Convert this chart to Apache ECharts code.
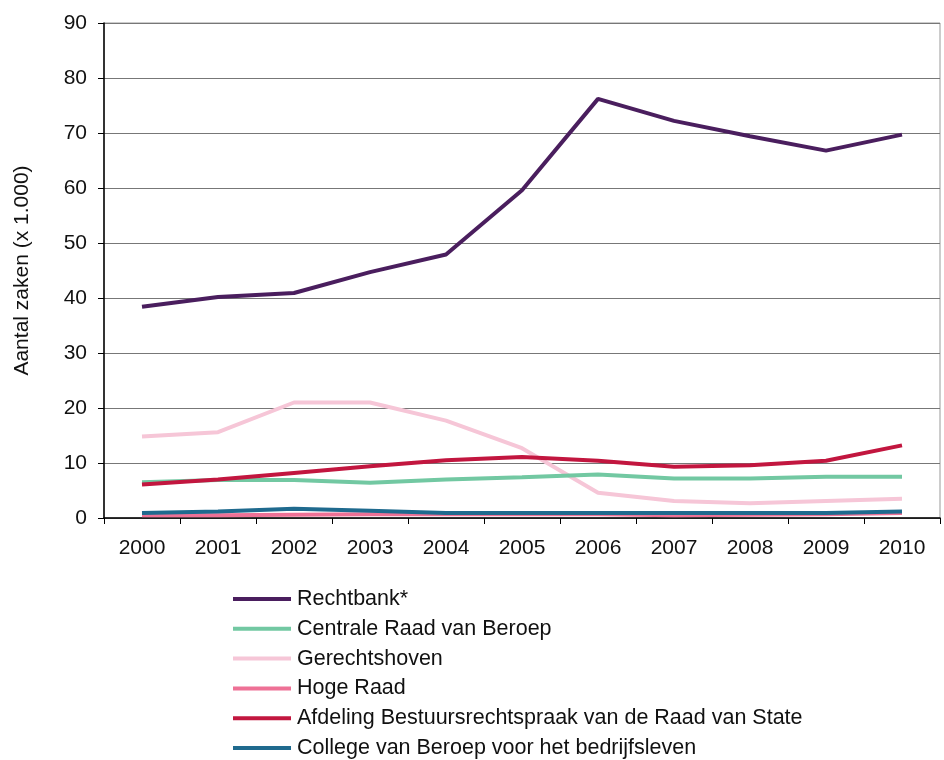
<!DOCTYPE html>
<html><head><meta charset="utf-8">
<script src="https://cdn.jsdelivr.net/npm/echarts@6/dist/echarts.min.js"></script>
<style>html,body{margin:0;padding:0;background:#fff}#c{width:944px;height:760px}</style>
</head><body><div id="c"></div>
<script>
var years = ['2000','2001','2002','2003','2004','2005','2006','2007','2008','2009','2010'];
var seriesNames = ['Rechtbank*','Centrale Raad van Beroep','Gerechtshoven','Hoge Raad','Afdeling Bestuursrechtspraak van de Raad van State','College van Beroep voor het bedrijfsleven'];
var rechtbank = [38.4, 40.2, 40.9, 44.7, 47.9, 59.6, 76.2, 72.2, 69.4, 66.8, 69.7];
var centrale = [6.5, 6.9, 6.9, 6.4, 7.0, 7.4, 7.9, 7.2, 7.2, 7.5, 7.5];
var gerechtshoven = [14.8, 15.6, 21.0, 21.0, 17.7, 12.7, 4.6, 3.1, 2.7, 3.1, 3.5];
var hogeRaad = [0.5, 0.5, 0.6, 0.7, 0.7, 0.7, 0.7, 0.5, 0.6, 0.7, 0.9];
var afdeling = [6.1, 7.0, 8.2, 9.4, 10.5, 11.1, 10.4, 9.3, 9.6, 10.4, 13.2];
var college = [0.9, 1.2, 1.7, 1.3, 0.9, 0.9, 0.9, 0.9, 0.9, 0.9, 1.2];
var yTicks = [0,10,20,30,40,50,60,70,80,90];
var colors = ['#4A1E5E','#72C8A2','#F6C6D7','#EE7196','#C2163F','#1F6A8E'];
var data = [rechtbank, centrale, gerechtshoven, hogeRaad, afdeling, college];
var FONT = 'Liberation Sans, Arial, sans-serif';

var chart = echarts.init(document.getElementById('c'));
var zs = [10, 8, 7, 5, 9, 6];
var series = seriesNames.map(function(n,i){
  return {name:n,type:'line',data:data[i],symbol:'none',smooth:false,
    lineStyle:{width:4,color:colors[i]},itemStyle:{color:colors[i]},z:zs[i]};
});
chart.setOption({
  animation:false,
  color:colors,
  grid:{left:104,top:23,right:4,bottom:242,containLabel:false,outerBoundsMode:'none',show:true,borderColor:'#999',borderWidth:1},
  legend:{orient:'vertical',left:233,top:588,height:200,padding:0,itemWidth:58,itemHeight:4,itemGap:7.8,icon:'rect',
    textStyle:{fontFamily:FONT,fontSize:21.5,color:'#111',padding:[0,0,0,1]},
    data:seriesNames},
  xAxis:{type:'category',data:years,boundaryGap:true,
    axisLine:{lineStyle:{color:'#000',width:1.5}},
    axisTick:{show:true,alignWithLabel:false,length:6,lineStyle:{color:'#000'}},
    axisLabel:{fontFamily:FONT,fontSize:21,color:'#111',margin:20}},
  yAxis:{type:'value',min:yTicks[0],max:yTicks[yTicks.length-1],interval:10,
    name:'Aantal zaken (x 1.000)',nameLocation:'middle',nameGap:71,nameRotate:90,
    nameTextStyle:{fontFamily:FONT,fontSize:21,color:'#111'},
    axisLine:{show:true,lineStyle:{color:'#000',width:1.5}},
    axisTick:{show:true,length:6,lineStyle:{color:'#000'}},
    splitLine:{show:true,lineStyle:{color:'#777',width:1.2}},
    axisLabel:{fontFamily:FONT,fontSize:21,color:'#111',margin:17}},
  series:series
});
</script></body></html>
